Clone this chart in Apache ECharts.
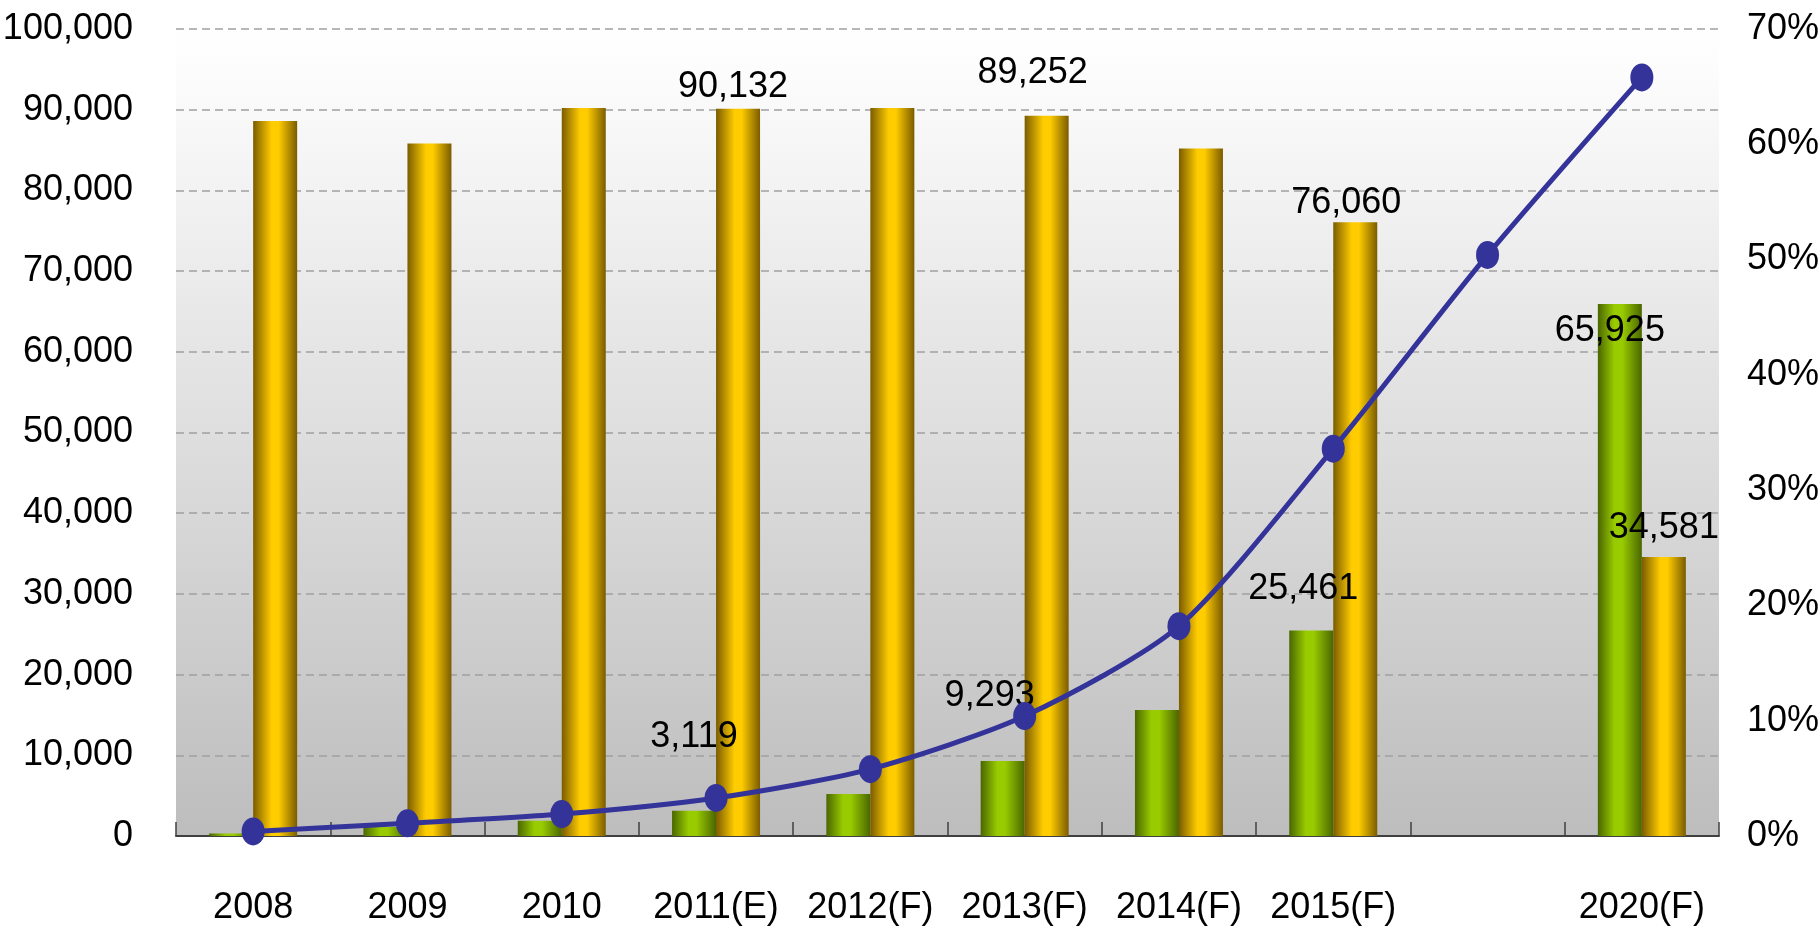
<!DOCTYPE html>
<html>
<head>
<meta charset="utf-8">
<title>chart</title>
<script src="https://cdn.jsdelivr.net/npm/echarts@6/dist/echarts.min.js"></script>
<style>
  html, body { margin: 0; padding: 0; background: #fff; }
  #main { width: 1820px; height: 931px; }
</style>
</head>
<body>
<div id="main"></div>
<script>
// data
const categories = ['2008', '2009', '2010', '2011(E)', '2012(F)', '2013(F)', '2014(F)', '2015(F)', '', '2020(F)']
const greenValues = [300, 1100, 1900, 3119, 5200, 9293, 15600, 25461, null, 65925]
const goldValues = [88600, 85800, 90200, 90132, 90200, 89252, 85200, 76060, null, 34581]
const lineValues = [0.4, 1.1, 1.9, 3.3, 5.8, 10.4, 18.2, 33.6, 50.4, 65.8]
const leftTicks = [0, 10000, 20000, 30000, 40000, 50000, 60000, 70000, 80000, 90000, 100000]
const rightTicks = [0, 10, 20, 30, 40, 50, 60, 70]

// where the value labels sit, relative to the bar top (label centre)
const greenLabelShift = { '2011(E)': [0, -74], '2013(F)': [-13, -65], '2015(F)': [-8, -41], '2020(F)': [-10, 27] }
const goldLabelShift = { '2011(E)': [-5, -22], '2013(F)': [-14, -43], '2015(F)': [-9, -19], '2020(F)': [0, -29] }

// no narrow font here, so a slightly smaller regular one
const FONT = "'Liberation Sans', Arial, sans-serif"
const FS = 36

function fmt(v) {
    return Number(v).toLocaleString('en-US')
}

function barData(values, shift) {
    return values.map((v, i) => {
        const s = shift[categories[i]]
        if (v == null) return '-'
        if (!s) return v
        return {
            value: v,
            label: {
                show: true,
                position: 'top',
                distance: 0,
                offset: [s[0], s[1] + FS / 2],
                formatter: p => fmt(p.value),
                color: '#000',
                fontFamily: FONT,
                fontSize: FS,
                lineHeight: FS
            }
        }
    })
}

const gold = new echarts.graphic.LinearGradient(0, 0, 1, 0, [
    { offset: 0, color: '#7a5c00' },
    { offset: 0.42, color: '#ffcc00' },
    { offset: 0.58, color: '#ffcc00' },
    { offset: 1, color: '#7a5c00' }
])
const green = new echarts.graphic.LinearGradient(0, 0, 1, 0, [
    { offset: 0, color: '#4a6600' },
    { offset: 0.38, color: '#99cc00' },
    { offset: 0.55, color: '#99cc00' },
    { offset: 1, color: '#4a6600' }
])

const option = {
    animation: false,
    grid: {
        left: 176,
        right: 101,
        top: 29,
        bottom: 95,
        outerBoundsMode: 'none',
        show: true,
        borderWidth: 0,
        backgroundColor: new echarts.graphic.LinearGradient(0, 0, 0, 1, [
            { offset: 0, color: '#ffffff' },
            { offset: 0.04, color: '#fdfdfd' },
            { offset: 1, color: '#bdbdbd' }
        ])
    },
    xAxis: {
        type: 'category',
        data: categories,
        boundaryGap: true,
        axisLine: { lineStyle: { color: '#404040', width: 2 } },
        axisTick: { show: true, inside: true, length: 14, lineStyle: { color: '#404040', width: 1.5 } },
        axisLabel: { interval: 0, color: '#000', fontFamily: FONT, fontSize: FS, margin: 54 },
        splitLine: { show: false }
    },
    yAxis: [
        {
            type: 'value',
            min: leftTicks[0],
            max: leftTicks[leftTicks.length - 1],
            interval: leftTicks[1] - leftTicks[0],
            axisLine: { show: false },
            axisTick: { show: false },
            axisLabel: { color: '#000', fontFamily: FONT, fontSize: FS, margin: 43, formatter: v => fmt(v) },
            splitLine: { lineStyle: { color: '#a0a0a0', width: 1.5, type: [8, 5] } }
        },
        {
            type: 'value',
            min: rightTicks[0],
            max: rightTicks[rightTicks.length - 1],
            interval: rightTicks[1] - rightTicks[0],
            axisLine: { show: false },
            axisTick: { show: false },
            axisLabel: { color: '#000', fontFamily: FONT, fontSize: FS, margin: 28, formatter: '{value}%' },
            splitLine: { show: false }
        }
    ],
    series: [
        {
            name: 'green',
            type: 'bar',
            barWidth: 44,
            barGap: '0%',
            itemStyle: { color: green },
            data: barData(greenValues, greenLabelShift),
            z: 2
        },
        {
            name: 'gold',
            type: 'bar',
            barWidth: 44,
            barGap: '0%',
            itemStyle: { color: gold },
            data: barData(goldValues, goldLabelShift),
            z: 2
        },
        {
            name: 'line',
            type: 'line',
            yAxisIndex: 1,
            smooth: 0.25,
            symbol: 'circle',
            symbolSize: [23, 28],
            lineStyle: { color: '#333399', width: 5 },
            itemStyle: { color: '#333399' },
            data: lineValues,
            z: 5
        }
    ]
}

const chart = echarts.init(document.getElementById('main'))
chart.setOption(option)
</script>
</body>
</html>
